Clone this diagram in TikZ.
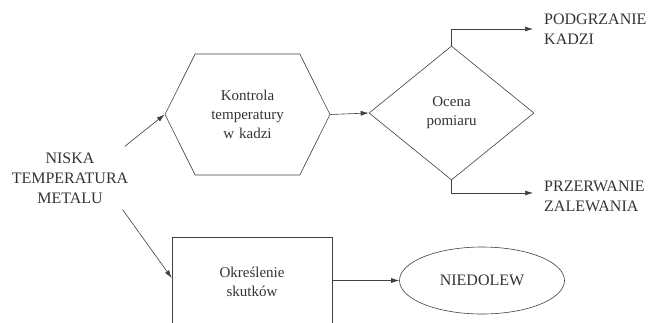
\documentclass[tikz,border=0pt]{standalone}
\usepackage{fontspec}
\setmainfont{Liberation Serif}
\newfontfamily\figfont{Liberation Serif}
\usetikzlibrary{shapes.geometric,shapes.symbols,arrows.meta}

\begin{document}
\begin{tikzpicture}[
    x=1pt, y=-1pt,
    box/.style={draw=black!75, line width=0.6pt, inner sep=0pt, align=center, text=black!80, font=\figfont\fontsize{15pt}{19pt}\selectfont},
    hexbox/.style={box, signal, signal to=west and east, signal pointer angle=127, minimum width=165pt, minimum height=121pt, text width=90pt},
    decbox/.style={box, diamond, minimum width=165pt, minimum height=134pt, text width=70pt},
    rectbox/.style={box, rectangle, minimum width=160pt, minimum height=90pt, text width=100pt},
    endbox/.style={box, ellipse, minimum width=165pt, minimum height=67pt, font=\figfont\fontsize{16pt}{20pt}\selectfont},
    lbl/.style={align=center, text width=122pt, inner sep=6pt, text=black!80, font=\figfont\fontsize{16pt}{20pt}\selectfont},
    outlbl/.style={align=left, anchor=west, inner sep=3pt, text=black!80, font=\figfont\fontsize{16pt}{20pt}\selectfont},
    arr/.style={-{Latex[length=8pt,width=5pt]}, draw=black!75, line width=0.6pt},
  ]
  \useasboundingbox (0,0) rectangle (652,322);
  \clip (0,0) rectangle (652,322);

  % --- Cause ---
  \node[lbl] (niska) at (70,178) {NISKA\\TEMPERATURA\\METALU};

  % --- Upper branch ---
  \node[hexbox] (kontrola) at (247.5,114.5) {Kontrola\\temperatury\\w kadzi};
  \node[decbox] (ocena) at (451.5,113) {Ocena\\pomiaru};
  \node[outlbl] (podgrz) at (541,29) {PODGRZANIE\\KADZI};
  \node[outlbl] (przerw) at (541,196) {PRZERWANIE\\ZALEWANIA};

  % --- Lower branch ---
  \node[rectbox] (okresl) at (252,282) {Określenie\\skutków};
  \node[endbox] (niedolew) at (482,280.5) {NIEDOLEW};

  % --- Arrows ---
  \draw[arr] (niska.30) -- (kontrola.west);
  \draw[arr] (niska.-31) -- ([yshift=4pt]okresl.west);
  \draw[arr] (kontrola.east) -- (ocena.west);
  \draw[arr, shorten >=8pt] (ocena.north) |- (podgrz.west);
  \draw[arr, shorten >=8pt] (ocena.south) |- ([yshift=3pt]przerw.west);
  \draw[arr] (okresl.east |- niedolew.west) -- (niedolew.west);

\end{tikzpicture}
\end{document}
